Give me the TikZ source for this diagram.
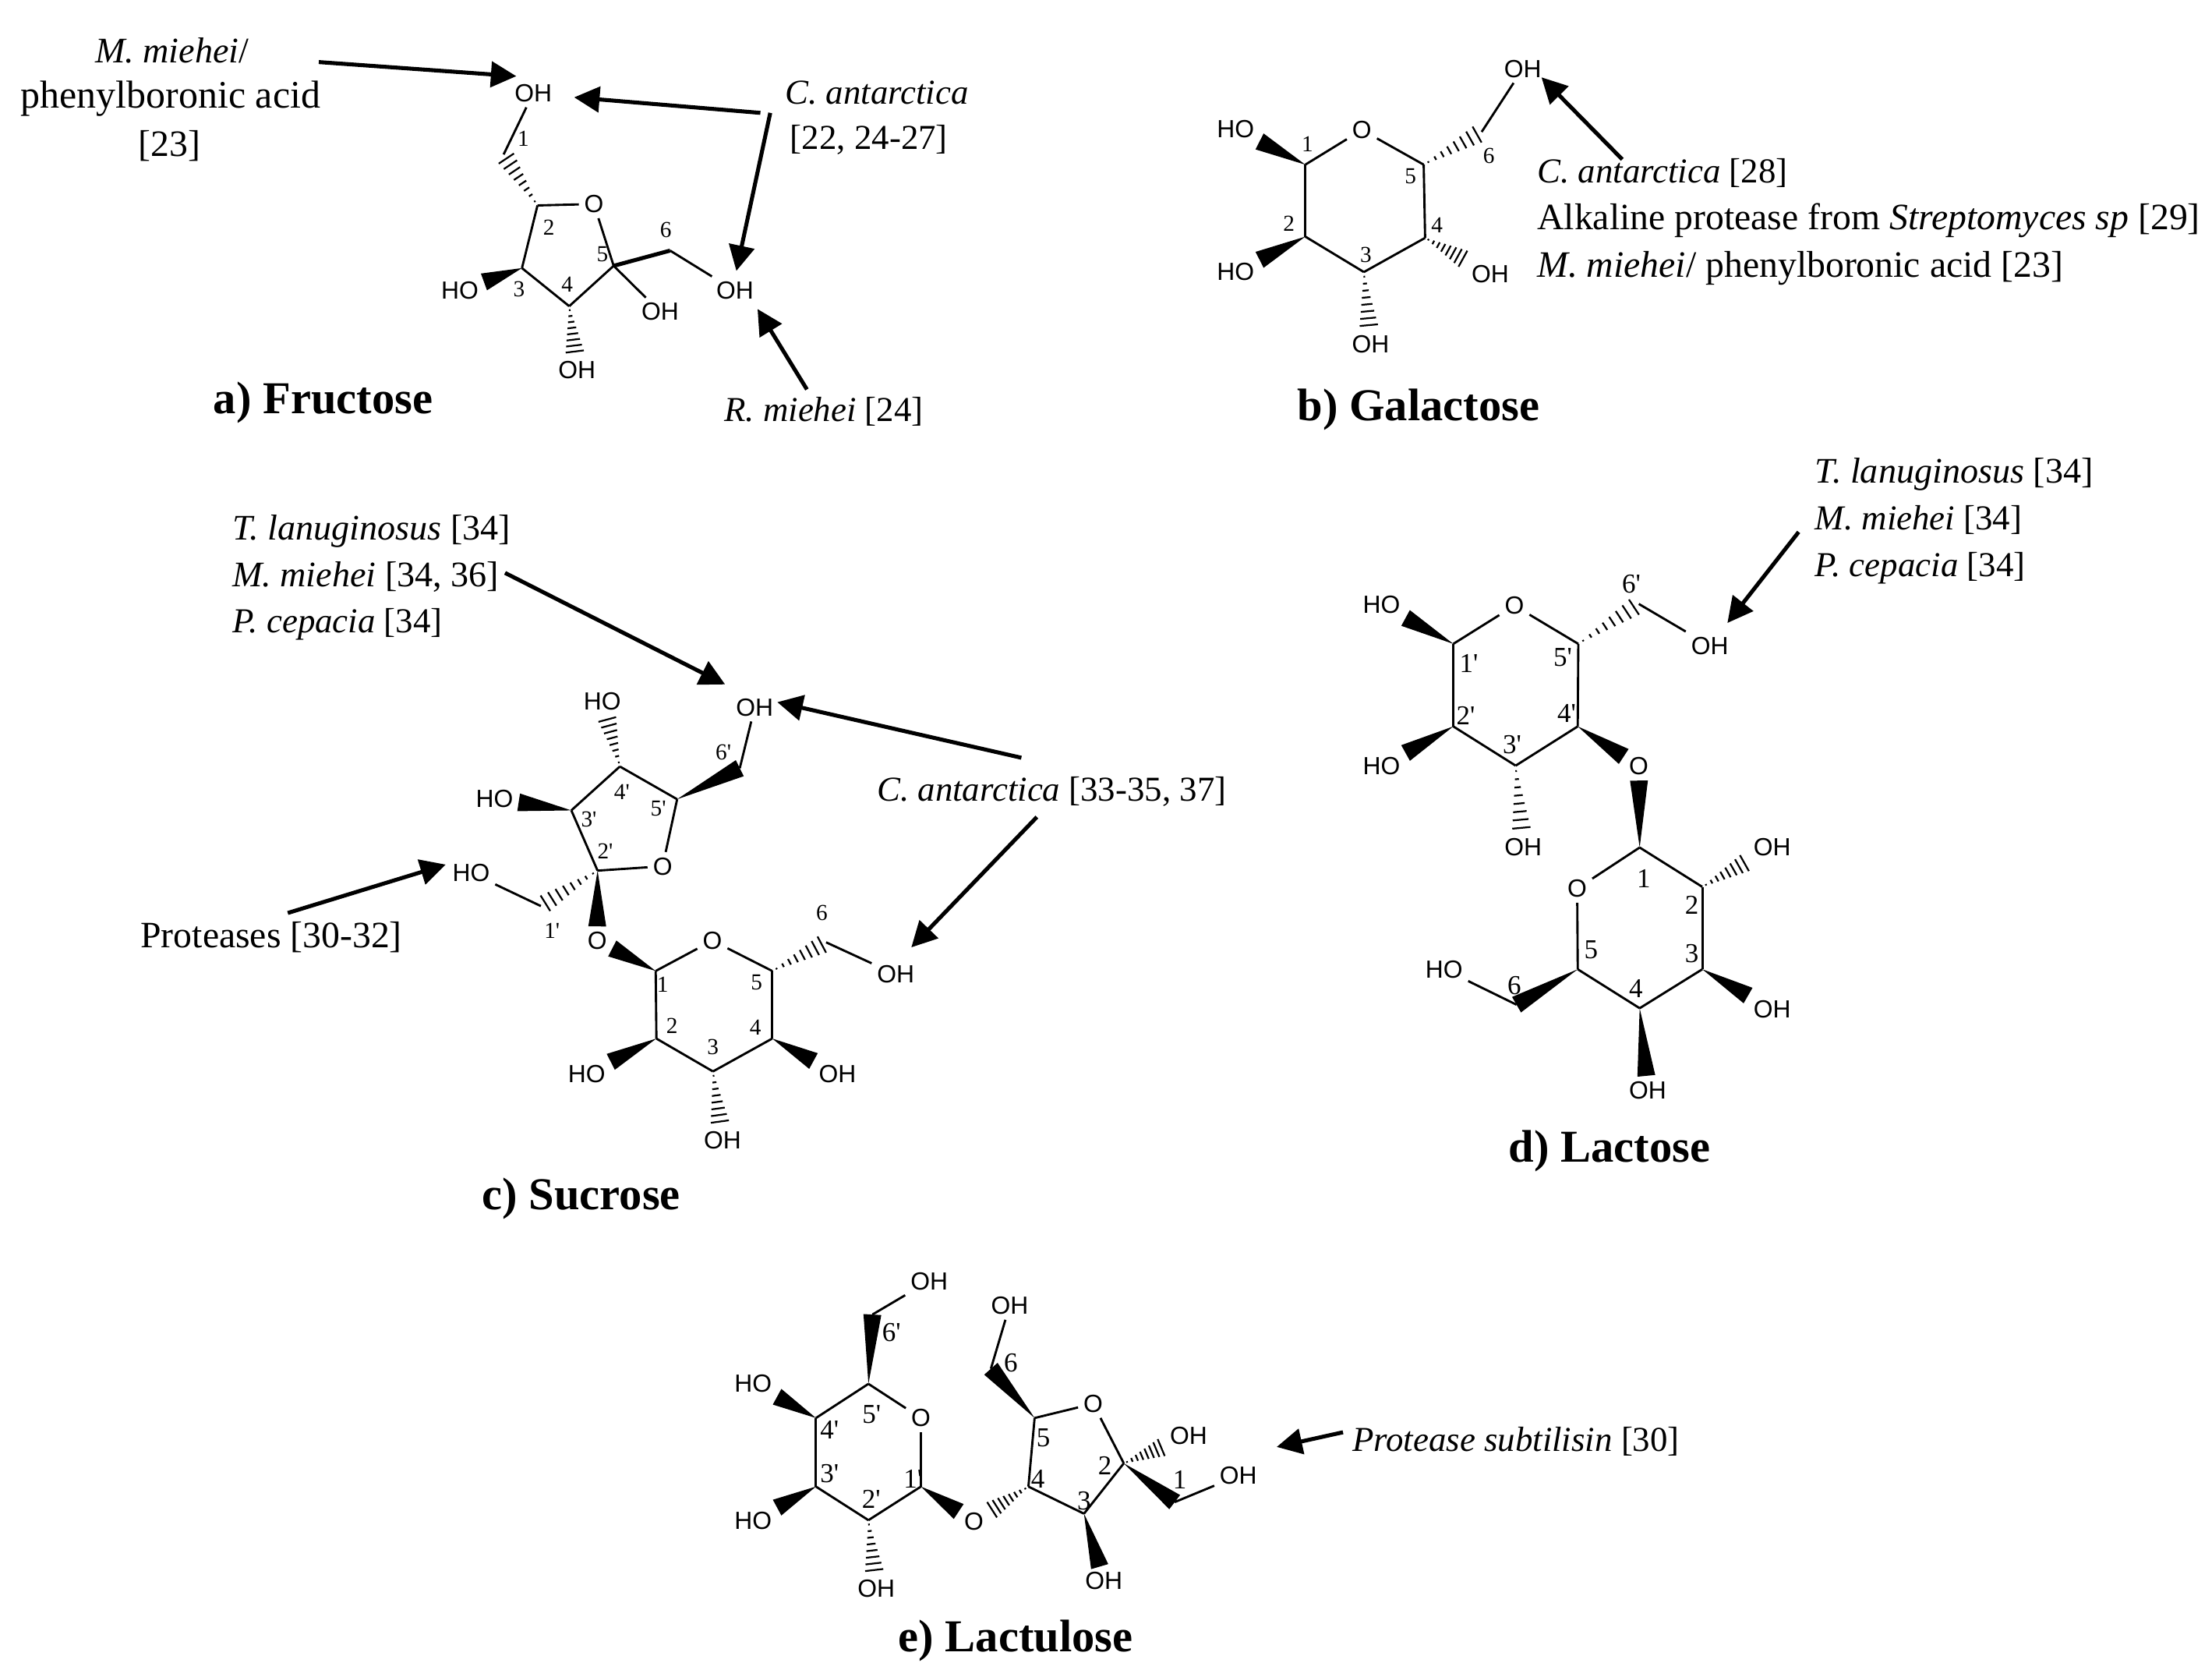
\documentclass[tikz,border=0pt]{standalone}
\usepackage{fontspec}
\setmainfont{Liberation Serif}
\newfontfamily\atomfont{Liberation Sans}
\newfontfamily\numfont{Liberation Serif}
\usetikzlibrary{arrows.meta, calc}

\tikzset{
	bondline/.style={line width=0.45pt, black},
	hashline/.style={line width=0.35pt, black},
	enzymearrow/.style={line width=0.8pt, -{Triangle[length=0.18cm, width=0.18cm]}},
	atomlabel/.style={font=\atomfont\fontsize{5}{6}\selectfont, inner sep=0.9pt},
	numlabel/.style={font=\numfont\fontsize{4.6}{5.5}\selectfont, inner sep=0pt},
	numlarge/.style={font=\numfont\fontsize{5.5}{6.5}\selectfont, inner sep=0pt},
	enzymelabel/.style={font=\fontsize{7.5}{9}\selectfont, inner sep=0pt, text height=5.9pt, text depth=1.6pt},
	enzymemid/.style={enzymelabel, font=\fontsize{7.25}{9}\selectfont},
	enzymenarrow/.style={enzymelabel, font=\fontsize{7.05}{9}\selectfont},
	captionlabel/.style={font=\fontsize{9.2}{11}\selectfont\bfseries, inner sep=0pt, text height=7.9pt, text depth=2pt}
}

\newcommand{\wedgebond}[2]{
	\path (#1) -- (#2) coordinate[pos=0] (wa) coordinate[pos=1] (wb);
	\fill ($(wa)$) -- ($(wb)!1.8pt!90:(wa)$) -- ($(wb)!1.8pt!-90:(wa)$) -- cycle;
}
\newcommand{\hashbond}[2]{
	\path (#1) -- (#2) coordinate[pos=0] (wa) coordinate[pos=1] (wb);
	\foreach \hstep [evaluate=\hstep as \hwidth using \hstep*2] in {0.08,0.2,...,0.98}
		\draw[hashline] ($(wa)!\hstep!(wb)!\hwidth pt!90:(wb)$) -- ($(wa)!\hstep!(wb)!\hwidth pt!-90:(wb)$);
}

\begin{document}
\begin{tikzpicture}[x=0.01cm, y=-0.01cm]
	\useasboundingbox (0, 0) rectangle (1568, 1183);

	% a) Fructose
	\foreach \name/\xpos/\ypos in {fC1/357/109.5, fC2/381/145.6, fC3/370/190, fC4/403.5/217, fC5/435/188.4, fC6/475/177.6}
		\coordinate (\name) at (\xpos, \ypos);
	\foreach \name/\xpos/\ypos/\txt in {fO/421/144.6/O, fOHa/378/66/OH, fOHb/521/206/OH, fOHc/468/221/OH, fHOd/326/206/HO, fOHe/409/262/OH}
		\node[atomlabel] (\name) at (\xpos, \ypos) {\txt};
	\foreach \name/\xpos/\ypos/\txt in {fn1/371/98.4/1, fn2/389/161/2, fn3/368/205/3, fn4/402/201.5/4, fn5/427/180/5, fn6/472/163/6}
		\node[numlabel] (\name) at (\xpos, \ypos) {\txt};
	\foreach \a/\b in {fC2/fO, fO/fC5, fC5/fC4, fC4/fC3, fC3/fC2, fC1/fOHa, fC5/fOHc, fC6/fOHb}
		\draw[bondline] (\a) -- (\b);
	\draw[bondline, line width=0.8pt] (fC5) -- (fC6);
	\hashbond{fC2}{fC1}
	\hashbond{fC4}{fOHe}
	\wedgebond{fC3}{fHOd}
	\node[enzymemid] (fmm1) at (122, 37) {\textit{M. miehei}/};
	\node[enzymelabel, font=\fontsize{7.85}{9}\selectfont] (fmm2) at (121, 69) {phenylboronic acid};
	\node[enzymelabel] (fmm3) at (120, 103) {[23]};
	\node[enzymenarrow] (fca1) at (621.5, 66) {\textit{C. antarctica}};
	\node[enzymenarrow] (fca2) at (616, 98.4) {[22, 24-27]};
	\node[enzymenarrow] (frm) at (584, 291) {\textit{R. miehei} [24]};
	\draw[enzymearrow] ([shift={(104, 7)}]fmm1.center) -- ([shift={(-12, -12)}]fOHa.center);
	\draw[enzymearrow] ([shift={(-82.5, 14)}]fca1.center) -- ([shift={(29, 3)}]fOHa.center);
	\draw[enzymearrow] ([shift={(-75.5, 14)}]fca1.center) -- ([shift={(1, -14)}]fOHb.center);
	\draw[enzymearrow] ([shift={(-12, -15)}]frm.center) -- ([shift={(16, 13)}]fOHb.center);
	\node[captionlabel] (fcap) at (229, 283) {a) Fructose};

	% b) Galactose
	\foreach \name/\xpos/\ypos in {gC1/925.3/116.7, gC2/925.3/167.7, gC3/966.8/192.8, gC4/1010.2/168.6, gC5/1009.2/116.7, gC6/1050.3/93.5}
		\coordinate (\name) at (\xpos, \ypos);
	\foreach \name/\xpos/\ypos/\txt in {gO/965.4/92.1/O, gHO1/875.8/91.6/HO, gHO2/875.8/192.8/HO, gOH3/971.5/243.8/OH, gOH4/1056.4/194/OH, gOH6/1079.5/48.7/OH}
		\node[atomlabel] (\name) at (\xpos, \ypos) {\txt};
	\foreach \name/\xpos/\ypos/\txt in {gn1/926.8/102/1, gn2/913.6/158.2/2, gn3/968.2/180.6/3, gn4/1018.7/159.5/4, gn5/999.8/124.9/5, gn6/1055.4/110.6/6}
		\node[numlabel] (\name) at (\xpos, \ypos) {\txt};
	\foreach \a/\b in {gC1/gO, gO/gC5, gC5/gC4, gC4/gC3, gC3/gC2, gC2/gC1, gC6/gOH6}
		\draw[bondline] (\a) -- (\b);
	\wedgebond{gC1}{gHO1}
	\wedgebond{gC2}{gHO2}
	\hashbond{gC3}{gOH3}
	\hashbond{gC4}{gOH4}
	\hashbond{gC5}{gC6}
	\node[enzymenarrow, anchor=west] (gca) at (1089, 122) {\textit{C. antarctica} [28]};
	\node[enzymelabel, anchor=west] (gal) at (1089, 155.3) {Alkaline protease from \textit{Streptomyces sp} [29]};
	\node[enzymelabel, anchor=west] (gmm) at (1089, 188.6) {\textit{M. miehei}/ phenylboronic acid [23]};
	\draw[enzymearrow] ([shift={(61, -9)}]gca.west) -- ([shift={(13.2, 6.1)}]gOH6.center);
	\node[captionlabel] (gcap) at (1005.5, 287.6) {b) Galactose};

	% c) Sucrose
	\foreach \name/\xpos/\ypos in {sC1/464.8/688.1, sC2/465.3/736, sC3/505.4/759.3, sC4/547.4/736, sC5/547.4/688.1, sC6/585.6/667.8, sC1p/383.4/642.1, sC2p/423.6/617, sC3p/405/574.3, sC4p/439.4/543.2, sC5p/480/566.4, sC6p/524.4/544.4}
		\coordinate (\name) at (\xpos, \ypos);
	\foreach \name/\xpos/\ypos/\txt in {sO/505/666.6/O, sOl/423.3/666.6/O, sOp/469.7/613.9/O, sHO2/415.9/761.2/HO, sOH3/512.1/808/OH, sOH4/593.7/761.2/OH, sOH6/634.9/690.5/OH, sHO1p/334/618.6/HO, sHO3p/350.6/566/HO, sHO4p/427/496.9/HO, sOH6p/535/501.2/OH}
		\node[atomlabel] (\name) at (\xpos, \ypos) {\txt};
	\foreach \name/\xpos/\ypos/\txt in {sn1/469.7/697.7/1, sn2/476.3/727/2, sn3/505.4/742/3, sn4/535.5/728.4/4, sn5/536.3/696/5, sn6/582.6/647/6, sn1p/391.3/659.4/1', sn2p/429/603/2', sn3p/417.4/580.8/3', sn4p/440.8/561.1/4', sn5p/466.7/573.1/5', sn6p/512.8/533.1/6'}
		\node[numlabel] (\name) at (\xpos, \ypos) {\txt};
	\foreach \a/\b in {sC1/sO, sO/sC5, sC5/sC4, sC4/sC3, sC3/sC2, sC2/sC1, sC6/sOH6, sC2p/sC3p, sC3p/sC4p, sC4p/sC5p, sC5p/sOp, sOp/sC2p, sC1p/sHO1p, sC6p/sOH6p}
		\draw[bondline] (\a) -- (\b);
	\wedgebond{sC1}{sOl}
	\wedgebond{sC2}{sHO2}
	\wedgebond{sC4}{sOH4}
	\wedgebond{sC2p}{sOl}
	\wedgebond{sC3p}{sHO3p}
	\wedgebond{sC5p}{sC6p}
	\hashbond{sC3}{sOH3}
	\hashbond{sC5}{sC6}
	\hashbond{sC2p}{sC1p}
	\hashbond{sC4p}{sHO4p}
	\node[enzymemid, anchor=west] (sen1) at (164, 375) {\textit{T. lanuginosus} [34]};
	\node[enzymemid, anchor=west] (sen2) at (164, 408) {\textit{M. miehei} [34, 36]};
	\node[enzymenarrow, anchor=west] (sen3) at (164, 441) {\textit{P. cepacia} [34]};
	\node[enzymenarrow, anchor=west] (sca) at (621, 560) {\textit{C. antarctica} [33-35, 37]};
	\node[enzymelabel, anchor=west] (spr) at (99, 664) {Proteases [30-32]};
	\draw[enzymearrow] ([shift={(194, -2)}]sen2.west) -- ([shift={(-21, -16.2)}]sOH6p.center);
	\draw[enzymearrow] ([shift={(103, -23)}]sca.west) -- ([shift={(16, -3.6)}]sOH6p.center);
	\draw[enzymearrow] ([shift={(114, 19)}]sca.west) -- ([shift={(11.1, -19.1)}]sOH6.center);
	\draw[enzymearrow] ([shift={(105, -17)}]spr.west) -- ([shift={(-18, -5.9)}]sHO1p.center);
	\node[captionlabel] (scap) at (412, 847) {c) Sucrose};

	% d) Lactose
	\foreach \name/\xpos/\ypos in {lC1/1162.3/600.6, lC2/1206.7/628.5, lC3/1206.7/686.9, lC4/1162.3/714.5, lC5/1118.4/686.9, lC6/1075/712, lC1p/1030.2/456.3, lC2p/1030.2/514.8, lC3p/1074.4/542.6, lC4p/1118.4/514.8, lC5p/1118.8/456.3, lC6p/1161.7/428}
		\coordinate (\name) at (\xpos, \ypos);
	\foreach \name/\xpos/\ypos/\txt in {lO/1118/629.7/O, lOl/1161.7/543.1/O, lOp/1073.5/429.2/O, lOH2/1256.2/600.6/OH, lOH3/1256.2/715.3/OH, lOH4/1168/772.5/OH, lHO6/1023.7/686.9/HO, lHO1p/979.3/428.7/HO, lHO2p/979.3/543.1/HO, lOH3p/1079.7/600.6/OH, lOH6p/1212/457.6/OH}
		\node[atomlabel] (\name) at (\xpos, \ypos) {\txt};
	\foreach \name/\xpos/\ypos/\txt in {ln1/1165.1/622.8/1, ln2/1199.3/641.3/2, ln3/1199.3/675.8/3, ln4/1159.6/700.5/4, ln5/1127.9/673.3/5, ln6/1073.5/698.5/6, ln1p/1041.2/469.9/1', ln2p/1039/507.4/2', ln3p/1071.9/527.8/3', ln4p/1110.5/505.6/4', ln5p/1107.8/465.7/5', ln6p/1156.4/413.7/6'}
		\node[numlarge] (\name) at (\xpos, \ypos) {\txt};
	\foreach \a/\b in {lC1/lC2, lC2/lC3, lC3/lC4, lC4/lC5, lC5/lO, lO/lC1, lC6/lHO6, lC1p/lOp, lOp/lC5p, lC5p/lC4p, lC4p/lC3p, lC3p/lC2p, lC2p/lC1p, lC6p/lOH6p}
		\draw[bondline] (\a) -- (\b);
	\wedgebond{lC1}{lOl}
	\wedgebond{lC3}{lOH3}
	\wedgebond{lC4}{lOH4}
	\wedgebond{lC5}{lC6}
	\wedgebond{lC1p}{lHO1p}
	\wedgebond{lC2p}{lHO2p}
	\wedgebond{lC4p}{lOl}
	\hashbond{lC2}{lOH2}
	\hashbond{lC3p}{lOH3p}
	\hashbond{lC5p}{lC6p}
	\node[enzymemid, anchor=west] (len1) at (1286, 335) {\textit{T. lanuginosus} [34]};
	\node[enzymenarrow, anchor=west] (len2) at (1286, 368) {\textit{M. miehei} [34]};
	\node[enzymenarrow, anchor=west] (len3) at (1286, 401) {\textit{P. cepacia} [34]};
	\draw[enzymearrow] ([shift={(-11, 9)}]len2.west) -- ([shift={(12.5, -16.1)}]lOH6p.center);
	\node[captionlabel] (lcap) at (1141, 813) {d) Lactose};

	% e) Lactulose
	\foreach \name/\xpos/\ypos in {uC1/832.7/1064.5, uC2/796.6/1037, uC3/768.4/1072.7, uC4/729/1053.5, uC5/733.4/1004.9, uC6/702.4/970, uC1p/652.8/1053.5, uC2p/615.6/1077.3, uC3p/578.4/1053.5, uC4p/578.4/1004.9, uC5p/615.6/980.7, uC6p/618.4/931.6}
		\coordinate (\name) at (\xpos, \ypos);
	\foreach \name/\xpos/\ypos/\txt in {uO/774.9/994.8/O, uOl/690.3/1078.2/O, uOp/652.8/1004.9/O, uOH1/877.8/1045.8/OH, uOH2/842.5/1017.7/OH, uOH3/782.5/1120.3/OH, uOH6/715.7/925.2/OH, uOH2p/621.2/1125.8/OH, uHO3p/533.8/1077.6/HO, uHO4p/533.8/980.5/HO, uOH6p/658.7/907.8/OH}
		\node[atomlabel] (\name) at (\xpos, \ypos) {\txt};
	\foreach \name/\xpos/\ypos/\txt in {un1/836.3/1048.9/1, un2/783.3/1038.8/2, un3/768.4/1063.5/3, un4/735.7/1048.3/4, un5/739.6/1018.7/5, un6/716.5/965.9/6, un1p/647.2/1048/1', un2p/617.6/1062.6/2', un3p/588/1044.3/3', un4p/588/1013.2/4', un5p/617.9/1002.2/5', un6p/632/944.5/6'}
		\node[numlarge] (\name) at (\xpos, \ypos) {\txt};
	\foreach \a/\b in {uC2/uO, uO/uC5, uC5/uC4, uC4/uC3, uC3/uC2, uC1/uOH1, uC6/uOH6, uC1p/uOp, uOp/uC5p, uC5p/uC4p, uC4p/uC3p, uC3p/uC2p, uC2p/uC1p, uC6p/uOH6p}
		\draw[bondline] (\a) -- (\b);
	\wedgebond{uC2}{uC1}
	\wedgebond{uC3}{uOH3}
	\wedgebond{uC5}{uC6}
	\wedgebond{uC1p}{uOl}
	\wedgebond{uC3p}{uHO3p}
	\wedgebond{uC4p}{uHO4p}
	\wedgebond{uC5p}{uC6p}
	\hashbond{uC2}{uOH2}
	\hashbond{uC4}{uOl}
	\hashbond{uC2p}{uOH2p}
	\node[enzymenarrow, anchor=west] (upr) at (958, 1021) {\textit{Protease subtilisin} [30]};
	\draw[enzymearrow] ([shift={(-6, -6)}]upr.west) -- ([shift={(27.2, -20.4)}]uOH1.center);
	\node[captionlabel] (ucap) at (720, 1160) {e) Lactulose};
\end{tikzpicture}
\end{document}
